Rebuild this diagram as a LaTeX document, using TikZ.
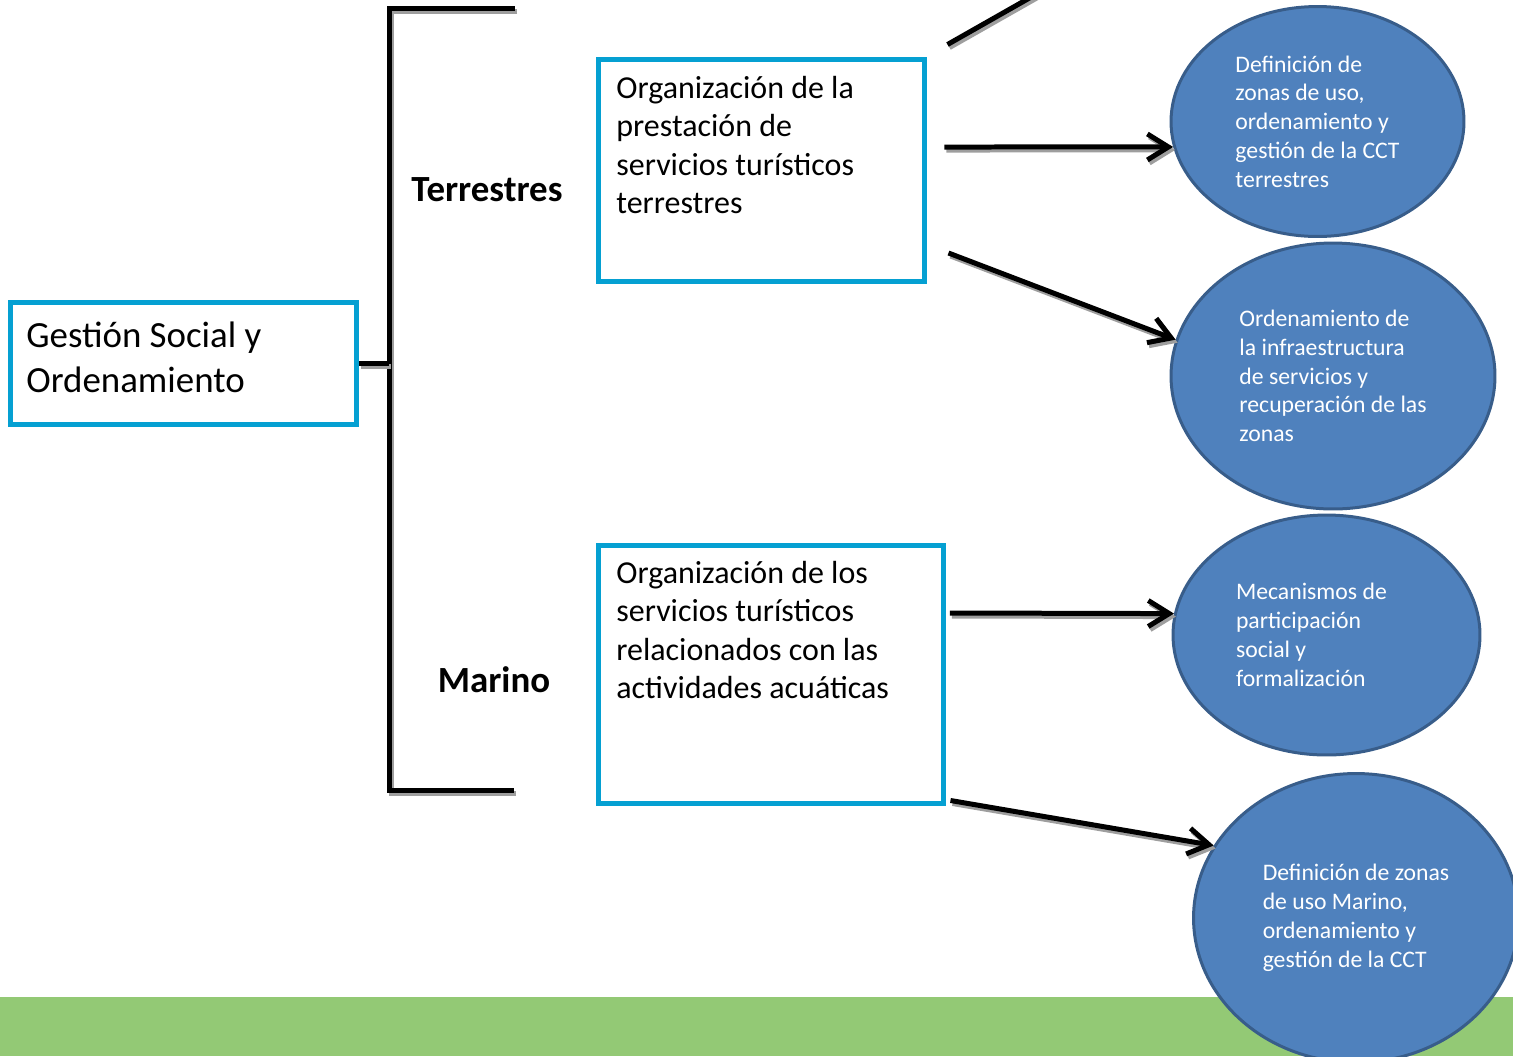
\documentclass[tikz,border=0pt]{standalone}
\usepackage{fontspec}
\setmainfont{Carlito}
\usetikzlibrary{positioning, arrows.meta, shapes.geometric, calc}
\definecolor{boxblue}{RGB}{5,160,210}
\definecolor{ovalfill}{RGB}{79,129,189}
\definecolor{ovalline}{RGB}{56,93,138}
\definecolor{grassgreen}{RGB}{147,201,117}

\begin{document}
\begin{tikzpicture}[
    x=0.02cm, y=-0.02cm,
    frame/.style={draw=boxblue, line width=0.1cm, inner sep=0pt},
    boxtxt/.style={anchor=north west, inner sep=0pt, align=flush left,
                   font=\fontsize{18.2}{21.8}\selectfont},
    side/.style={inner sep=0pt, font=\fontsize{21}{25}\selectfont\bfseries},
    oval/.style={ellipse, draw=ovalline, fill=ovalfill, line width=0.06cm, text=white,
                 align=flush left, inner sep=0pt, font=\fontsize{13.5}{16.4}\selectfont},
    shadowed/.style={preaction={draw=black!38, line width=0.1cm,
                     transform canvas={shift={(0.04cm,-0.06cm)}}}},
    brline/.style={shadowed, draw=black, line width=0.1cm},
    arrow/.style={brline, -{Straight Barb[length=0.42cm, width=0.52cm]}},
]
\useasboundingbox (0,0) rectangle (1513,1056);

% --- Green band at the bottom ---
\fill[grassgreen] (0,997) rectangle (1513,1056);

% --- Left box ---
\node[frame, minimum width=6.92cm, minimum height=2.44cm] (gest) at (183.5,363) {};
\node[boxtxt, font=\fontsize{21}{25.5}\selectfont] (gesttxt) at ($(gest.north west)+(18,22)$) {Gestión Social y\\ Ordenamiento};

% --- Middle boxes ---
\node[frame, minimum width=6.52cm, minimum height=4.44cm] (terr) at (761.5,170.5) {};
\node[boxtxt] (terrtxt) at ($(terr.north west)+(20,19)$) {Organización de la\\ prestación de\\ servicios turísticos\\ terrestres};
\node[frame, minimum width=6.9cm, minimum height=5.16cm] (mar) at (771,674.5) {};
\node[boxtxt] (martxt) at ($(mar.north west)+(20,18)$) {Organización de los\\ servicios turísticos\\ relacionados con las\\ actividades acuáticas};

% --- Branch labels ---
\node[side] (lterr) at (487,190) {Terrestres};
\node[side] (lmar)  at (494,680) {Marino};

% --- Ovals (right column) ---
\node[oval, minimum width=5.86cm, minimum height=4.6cm]  (o1) at (1317.5,121.5) {Definición de\\ zonas de uso,\\ ordenamiento y\\ gestión de la CCT\\ terrestres};
\node[oval, minimum width=6.48cm, minimum height=5.32cm] (o2) at (1333,376) {Ordenamiento de\\ la infraestructura\\ de servicios y\\ recuperación de las\\ zonas};
\node[oval, minimum width=6.14cm, minimum height=4.8cm, text width=3.62cm] (o3) at (1326.5,635) {Mecanismos de\\ participación\\ social y\\ formalización};
\node[oval, minimum width=6.5cm, minimum height=5.78cm]  (o4) at (1356,918) {Definición de zonas\\ de uso Marino,\\ ordenamiento y\\ gestión de la CCT};

% --- Bracket ---
\coordinate (brtop) at (515,8.5);
\coordinate (brbot) at (514,790.5);
\coordinate (brmid) at (389,364);
\draw[brline] (brtop) -- (brtop -| brmid) -- (brbot -| brmid) -- (brbot);
\draw[brline] (gest.east) -- (gest.east -| brmid);

% --- Arrows ---
\coordinate (offtop) at (1040,-8);
\draw[brline] ($(terr.north east)+(20.5,-12.5)$) -- (offtop);
\draw[arrow] ($(terr.east)+(17.5,-23.5)$) -- (o1.190);
\draw[arrow] ($(terr.east)+(21.5,82.5)$) -- (o2.167);
\draw[arrow] ($(mar.east)+(4,-61.5)$) -- (o3.172);
\draw[arrow] ($(mar.south east)+(4.5,-5.5)$) -- (o4.153);
\end{tikzpicture}
\end{document}
